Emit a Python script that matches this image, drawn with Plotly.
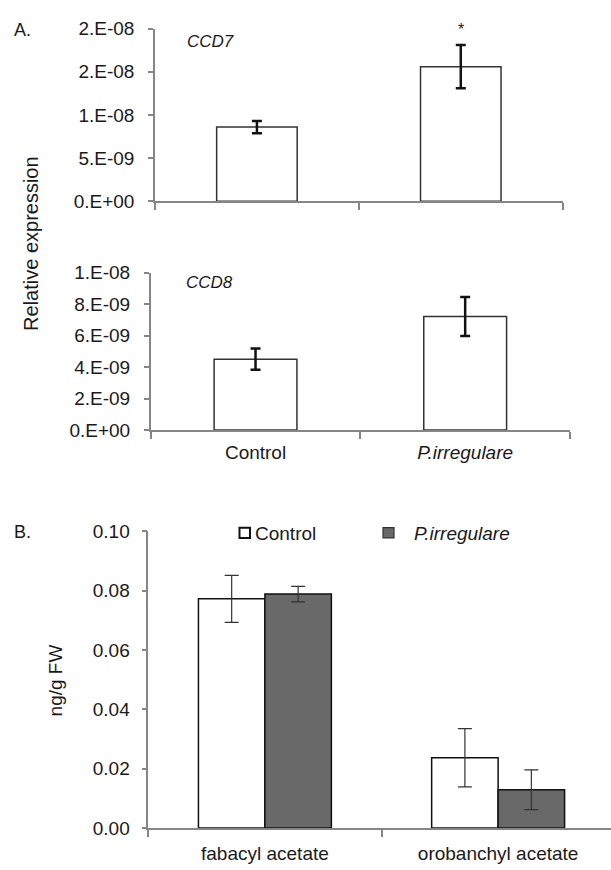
import plotly.graph_objects as go

# ---------------- data ----------------
groups_a = ["Control", "P.irregulare"]
groups_a_text = ["Control", "<i>P.irregulare</i>"]
ccd7_mean = [8.59e-9, 15.59e-9]
ccd7_err = [0.70e-9, 2.49e-9]
ccd8_mean = [4.51e-9, 7.22e-9]
ccd8_err = [0.68e-9, 1.24e-9]

compounds = ["fabacyl acetate", "orobanchyl acetate"]
sl_control = [0.0772, 0.0237]
sl_control_err = [0.0079, 0.0098]
sl_pirr = [0.0788, 0.0129]
sl_pirr_err = [0.0026, 0.0067]

ccd7_ticks = [0, 5e-9, 1e-8, 1.5e-8, 2e-8]
ccd7_ticktext = ["0.E+00", "5.E-09", "1.E-08", "2.E-08", "2.E-08"]
ccd8_ticks = [0, 2e-9, 4e-9, 6e-9, 8e-9, 1e-8]
ccd8_ticktext = ["0.E+00", "2.E-09", "4.E-09", "6.E-09", "8.E-09", "1.E-08"]
sl_ticks = [0, 0.02, 0.04, 0.06, 0.08, 0.10]

# ---------------- layout helpers ----------------
W, H = 611, 870
def px(x):
    return x / W
def py(y):
    return 1 - y / H

FONT = "Liberation Sans, Arial, sans-serif"
AX = "#868686"
TXT = "#1a1a1a"

fig = go.Figure()

# Panel A top: CCD7
fig.add_trace(go.Bar(
    x=groups_a, y=ccd7_mean, width=0.395,
    marker=dict(color="white", line=dict(color="#333333", width=1.5)),
    error_y=dict(type="data", array=ccd7_err, color="#111111", thickness=2.5, width=5),
    xaxis="x", yaxis="y", showlegend=False))

# Panel A bottom: CCD8
fig.add_trace(go.Bar(
    x=groups_a, y=ccd8_mean, width=0.395,
    marker=dict(color="white", line=dict(color="#333333", width=1.5)),
    error_y=dict(type="data", array=ccd8_err, color="#111111", thickness=2.5, width=5),
    xaxis="x2", yaxis="y2", showlegend=False))

# Panel B
fig.add_trace(go.Bar(
    x=compounds, y=sl_control, name="Control",
    marker=dict(color="white", line=dict(color="#111111", width=1.5)),
    error_y=dict(type="data", array=sl_control_err, color="#333333", thickness=1.2, width=7),
    xaxis="x3", yaxis="y3", showlegend=False))
fig.add_trace(go.Bar(
    x=compounds, y=sl_pirr, name="P.irregulare",
    marker=dict(color="#696969", line=dict(color="#111111", width=1.5)),
    error_y=dict(type="data", array=sl_pirr_err, color="#333333", thickness=1.2, width=7),
    xaxis="x3", yaxis="y3", showlegend=False))

xcommon = dict(type="category", showline=True, linecolor=AX, linewidth=1.5,
               showgrid=False, zeroline=False, ticks="outside", tickson="boundaries",
               ticklen=7, tickcolor=AX, tickwidth=1.5,
               tickfont=dict(family=FONT, size=19, color=TXT))
ycommon = dict(showline=True, linecolor=AX, linewidth=1.5, showgrid=False,
               zeroline=False, ticks="outside", ticklen=5, tickcolor=AX, tickwidth=1.5,
               tickfont=dict(family=FONT, size=19, color=TXT))

fig.update_layout(
    width=W, height=H,
    margin=dict(l=0, r=0, t=0, b=0),
    paper_bgcolor="white", plot_bgcolor="white",
    barmode="group", bargap=0.43, bargroupgap=0,
    xaxis=dict(xcommon, domain=[px(155), px(562.7)], anchor="y",
               range=[-0.5, 1.5], showticklabels=False),
    yaxis=dict(ycommon, domain=[py(196), py(19)], anchor="x",
               range=[0, 2e-8], tickvals=ccd7_ticks, ticktext=ccd7_ticktext,
               ticklabelstandoff=10),
    xaxis2=dict(xcommon, domain=[px(150.7), px(570)], anchor="y2",
                range=[-0.5, 1.5], tickvals=groups_a, ticktext=groups_a_text,
                ticklabelstandoff=4),
    yaxis2=dict(ycommon, domain=[py(430.5), py(269.3)], anchor="x2",
                range=[0, 1e-8], tickvals=ccd8_ticks, ticktext=ccd8_ticktext,
                ticklabelstandoff=10),
    xaxis3=dict(xcommon, domain=[px(148.3), 1.0], anchor="y3",
                range=[-0.5, 1.484], ticklabelstandoff=7),
    yaxis3=dict(ycommon, domain=[py(838.3), py(534)], anchor="x3",
                range=[0, 0.10], tickvals=sl_ticks, tickformat=".2f",
                ticklabelstandoff=8),
)

ann = []
def text(x, y, s, size=18, xanchor="left", italic=False, angle=0):
    if italic:
        s = "<i>" + s + "</i>"
    ann.append(dict(x=px(x), y=py(y), xref="paper", yref="paper", text=s,
                    showarrow=False, xanchor=xanchor, yanchor="middle",
                    textangle=angle, font=dict(family=FONT, size=size, color=TXT)))

text(12, 21, "A.", size=18)
text(12, 535, "B.", size=18)
text(185, 32, "CCD7", size=17, italic=True)
text(184, 279, "CCD8", size=17, italic=True)
text(31.7, 239, "Relative expression", size=20, xanchor="center", angle=-90)
text(55.5, 687.5, "ng/g FW", size=19, xanchor="center", angle=-90)
text(253, 536, "Control", size=19)
text(411.7, 536, "P.irregulare", size=19, italic=True)

# significance asterisk above CCD7 P.irregulare error bar
ann.append(dict(x=groups_a[1], y=ccd7_mean[1] + ccd7_err[1], xref="x", yref="y",
                text="*", showarrow=False, yanchor="bottom", yshift=5,
                font=dict(family=FONT, size=16, color=TXT)))

fig.update_layout(annotations=ann)

# legend swatches
fig.add_shape(type="rect", xref="paper", yref="paper",
              x0=px(239.5), x1=px(250), y0=py(541), y1=py(530.5),
              fillcolor="white", line=dict(color="#111111", width=2))
fig.add_shape(type="rect", xref="paper", yref="paper",
              x0=px(383), x1=px(394), y0=py(541), y1=py(530.5),
              fillcolor="#696969", line=dict(color="#333333", width=1.2))

fig.write_html("out.html")
